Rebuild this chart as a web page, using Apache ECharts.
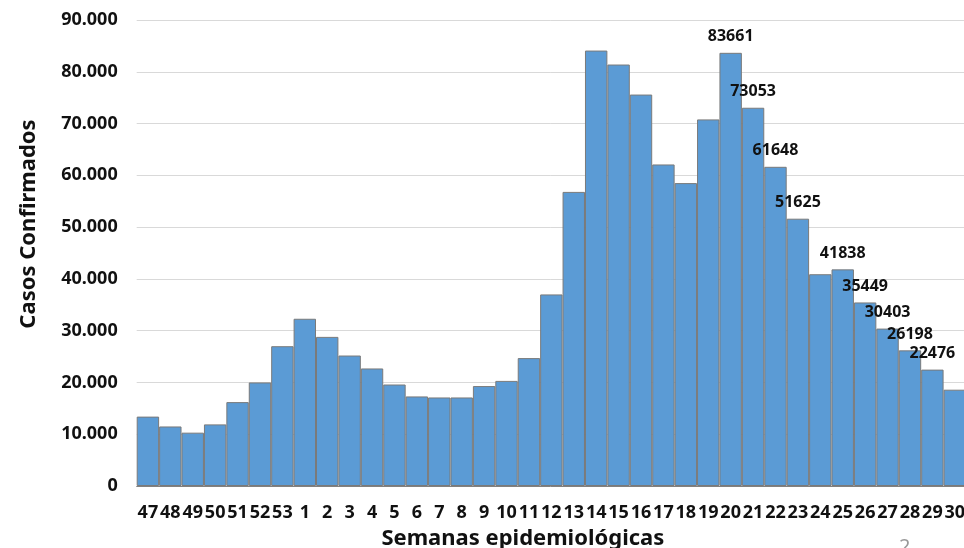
<!DOCTYPE html>
<html>
<head>
<meta charset="utf-8">
<script src="https://cdn.jsdelivr.net/npm/echarts@6/dist/echarts.min.js"></script>
<style>
html,body{margin:0;padding:0;background:#fff;}
#chart{width:964px;height:548px;}
</style>
</head>
<body>
<div id="chart"></div>
<script>
const weeks = ['47','48','49','50','51','52','53','1','2','3','4','5','6','7','8','9','10','11','12','13','14','15','16','17','18','19','20','21','22','23','24','25','26','27','28','29','30'];
const cases = [13400,11500,10300,11900,16200,20000,27000,32300,28800,25200,22700,19600,17300,17100,17100,19300,20300,24700,37000,56800,84100,81400,75600,62100,58500,70800,83661,73053,61648,51625,40900,41838,35449,30403,26198,22476,18600];
const labelledWeeks = ['20','21','22','23','25','26','27','28','29'];
const yTicks = [0,10000,20000,30000,40000,50000,60000,70000,80000,90000];

const FONT = '"Noto Sans", "DejaVu Sans", sans-serif';

const seriesData = cases.map((v, i) => ({
  value: v,
  label: { show: labelledWeeks.indexOf(weeks[i]) >= 0 }
}));

function fmt(v){
  if (v === 0) return '0';
  return String(v).replace(/\B(?=(\d{3})+(?!\d))/g, '.');
}

const chart = echarts.init(document.getElementById('chart'), null, {renderer:'canvas'});
chart.setOption({
  backgroundColor: '#ffffff',
  animation: false,
  grid: { left: 136.7, right: -2, top: 20, bottom: 62, containLabel: false, outerBoundsMode: 'none' },
  xAxis: {
    type: 'category',
    data: weeks,
    boundaryGap: true,
    axisTick: { show: false },
    axisLine: { show: true, lineStyle: { color: '#808080', width: 1 } },
    axisLabel: { interval: 0, margin: 18, color: '#111', fontFamily: FONT, fontWeight: 'bold', fontSize: 18 },
    name: 'Semanas epidemiológicas',
    nameLocation: 'middle',
    nameGap: 42,
    nameTextStyle: { color: '#111', fontFamily: FONT, fontWeight: 'bold', fontSize: 22, padding: [0, 57, 0, 0] }
  },
  yAxis: {
    type: 'value',
    min: yTicks[0],
    max: yTicks[yTicks.length - 1],
    interval: yTicks[1] - yTicks[0],
    axisLine: { show: false },
    axisTick: { show: false },
    splitLine: { show: true, lineStyle: { color: '#d9d9d9', width: 1 } },
    axisLabel: { margin: 19, color: '#111', fontFamily: FONT, fontWeight: 'bold', fontSize: 18, formatter: fmt },
    name: 'Casos Confirmados',
    nameLocation: 'middle',
    nameGap: 97,
    nameRotate: 90,
    nameTextStyle: { color: '#111', fontFamily: FONT, fontWeight: 'bold', fontSize: 22, padding: [0, 0, 0, 58] }
  },
  series: [{
    type: 'bar',
    data: seriesData,
    barCategoryGap: '0%',
    itemStyle: { color: '#5B9BD5', borderColor: '#7a7a7a', borderWidth: 1 },
    label: { position: 'top', distance: 8, color: '#111', fontFamily: FONT, fontWeight: 'bold', fontSize: 16 }
  }],
  graphic: [{
    type: 'text', left: 899, top: 537,
    style: { text: '2', fill: '#9a9a9a', font: '20px "Noto Sans", sans-serif' }
  }]
});
</script>
</body>
</html>
